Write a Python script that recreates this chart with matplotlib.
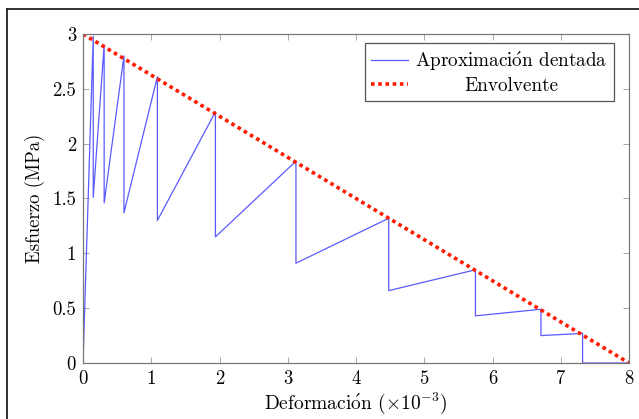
import matplotlib
matplotlib.use("Agg")
import matplotlib.pyplot as plt
from matplotlib.lines import Line2D

plt.rcParams["font.family"] = ["cmr10", "DejaVu Serif"]
plt.rcParams["mathtext.fontset"] = "cm"
plt.rcParams["axes.formatter.use_mathtext"] = True

# sawtooth approximation (strain x1e-3, stress MPa)
saw_x = [0.0, 0.15, 0.15, 0.31, 0.31, 0.60, 0.60, 1.09, 1.09, 1.94, 1.94,
         3.12, 3.12, 4.48, 4.48, 5.75, 5.75, 6.71, 6.71, 7.32, 7.32, 8.0]
saw_y = [0.0, 2.98, 1.51, 2.90, 1.46, 2.80, 1.37, 2.61, 1.30, 2.29, 1.15,
         1.84, 0.91, 1.32, 0.66, 0.85, 0.43, 0.49, 0.25, 0.27, 0.0, 0.0]
env_x = [0.0, 8.0]
env_y = [3.0, 0.0]

x_ticks = [0, 1, 2, 3, 4, 5, 6, 7, 8]
y_ticks = [0, 0.5, 1, 1.5, 2, 2.5, 3]

# cmr10 has no ó, so the accent goes through mathtext
OACUTE = r"$\acute{\rm o}$"

W, H = 639, 419
fig = plt.figure(figsize=(W / 100, H / 100), dpi=100)
ax = fig.add_axes([83 / W, 1 - 363 / H, (629 - 83) / W, (363 - 34) / H])

ax.plot(saw_x, saw_y, color="#5a5aff", lw=0.9,
        label="Aproximaci" + OACUTE + "n dentada")
ax.plot(env_x, env_y, color="#ff1a00", lw=2.6, dashes=(1.0, 1.0),
        dash_capstyle="butt", label="Envolvente")

ax.set_xlim(0, 8)
ax.set_ylim(0, 3)
ax.set_xticks(x_ticks)
ax.set_yticks(y_ticks)
ax.set_xticklabels([str(v) for v in x_ticks])
ax.set_yticklabels([f"{v:g}" for v in y_ticks])
ax.tick_params(direction="in", top=True, right=True, length=4, width=0.6,
               color="#999999", labelsize=13.5, pad=5)
for s in ax.spines.values():
    s.set_color("#777777")
    s.set_linewidth(0.9)

ax.set_xlabel("Deformaci" + OACUTE + r"n ($\times10^{-3}$)", fontsize=14, labelpad=2)
ax.set_ylabel("Esfuerzo (MPa)", fontsize=13.5, labelpad=5)

leg = ax.legend(loc="upper right", bbox_to_anchor=(0.973, 0.973), fontsize=13.8,
                fancybox=False, framealpha=1, edgecolor="#555555",
                handlelength=1.9, handletextpad=0.4, borderpad=0.35,
                labelspacing=0.2, borderaxespad=0)
leg.get_frame().set_linewidth(0.9)

# centre the legend entries like pgfplots does
fig.canvas.draw()
r = fig.canvas.get_renderer()
texts = leg.get_texts()
widths = [t.get_window_extent(r).width for t in texts]
for t, w in zip(texts, widths):
    t.set_position(((max(widths) - w) / 2, 0))

# screenshot frame (top and left edges)
fig.add_artist(Line2D([7 / W, 1], [1 - 9 / H, 1 - 9 / H], color="#222222", lw=1.3))
fig.add_artist(Line2D([7 / W, 7 / W], [0, 1 - 9 / H], color="#222222", lw=1.3))

fig.savefig("out.png", dpi=100)
plt.close(fig)
